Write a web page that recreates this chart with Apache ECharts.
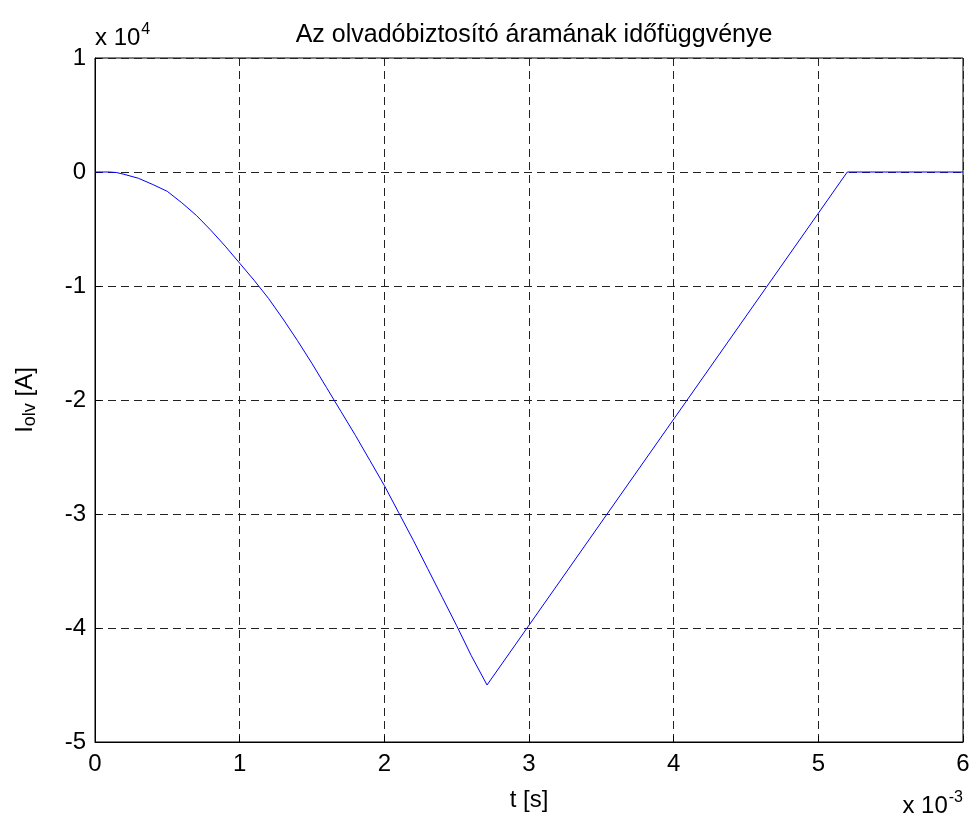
<!DOCTYPE html>
<html lang="en">
<head>
    <meta charset="UTF-8">
    <title>Az olvadóbiztosító áramának időfüggvénye</title>
    <script src="https://cdn.jsdelivr.net/npm/echarts@6/dist/echarts.min.js"></script>
    <style>
        body { margin: 0; background: #fff; }
        #chart { width: 977px; height: 826px; }
    </style>
</head>
<body>
    <div id="chart"></div>

    <script>
        // time in units of 1e-3 s
        var tData = [0, 0.1, 0.15, 0.2, 0.3, 0.4, 0.5, 0.6, 0.7, 0.8, 0.9, 1.0,
                     1.1, 1.2, 1.3, 1.4, 1.5, 1.6, 1.7, 1.8, 1.9, 2.0,
                     2.1, 2.2, 2.3, 2.4, 2.5, 2.6, 2.71, 5.2, 6.0];
        // current in units of 1e4 A
        var iData = [0, 0, -0.005, -0.02, -0.055, -0.11, -0.17, -0.27, -0.38, -0.51, -0.65, -0.80,
                     -0.95, -1.11, -1.29, -1.48, -1.68, -1.89, -2.10, -2.31, -2.53, -2.75,
                     -2.99, -3.23, -3.48, -3.73, -3.98, -4.24, -4.50, 0, 0];

        var xTicks = ['0', '1', '2', '3', '4', '5', '6'];
        var yTicks = ['-5', '-4', '-3', '-2', '-1', '0', '1'];

        var font = 'Liberation Sans, Arial, sans-serif';
        var points = tData.map(function (t, i) { return [t, iData[i]]; });

        var chart = echarts.init(document.getElementById('chart'));

        var gridLine = {
            show: true,
            lineStyle: { color: '#222', type: [8, 5], width: 1 }
        };

        var option = {
            backgroundColor: '#fff',
            animation: false,
            title: {
                text: 'Az olvadóbiztosító áramának időfüggvénye',
                left: 529,
                textAlign: 'center',
                top: 18,
                textStyle: { fontFamily: font, fontSize: 25, fontWeight: 'normal', color: '#000' }
            },
            grid: {
                left: 95, right: 14, top: 58, bottom: 84,
                show: true, borderColor: '#000', borderWidth: 1
            },
            xAxis: {
                type: 'value',
                min: 0, max: 6, interval: 1,
                name: 't [s]',
                nameLocation: 'middle',
                nameGap: 46,
                nameTextStyle: { fontFamily: font, fontSize: 24, color: '#000' },
                axisLine: { show: true, onZero: false, lineStyle: { color: '#000' } },
                axisTick: { show: true, inside: true, length: 6, lineStyle: { color: '#000' } },
                axisLabel: {
                    margin: 10,
                    fontFamily: font, fontSize: 24, color: '#000',
                    formatter: function (v) { return xTicks[Math.round(v)]; }
                },
                splitLine: gridLine
            },
            yAxis: {
                type: 'value',
                min: -5, max: 1, interval: 1,
                name: '{a|I}{b|olv}{a| [A]}',
                nameLocation: 'middle',
                nameGap: 56,
                nameRotate: 90,
                nameTextStyle: {
                    rich: {
                        a: { fontFamily: font, fontSize: 24, color: '#000' },
                        b: { fontFamily: font, fontSize: 18, color: '#000', padding: [10, 0, 0, 0] }
                    }
                },
                axisLine: { show: true, lineStyle: { color: '#000' } },
                axisTick: { show: true, inside: true, length: 6, lineStyle: { color: '#000' } },
                axisLabel: {
                    margin: 9,
                    fontFamily: font, fontSize: 24, color: '#000',
                    formatter: function (v) { return yTicks[Math.round(v) + 5]; }
                },
                splitLine: gridLine
            },
            graphic: [
                {
                    type: 'text',
                    left: 95, top: 22,
                    style: {
                        text: '{a|x 10}{b|4}',
                        rich: {
                            a: { fontFamily: font, fontSize: 24, fill: '#000' },
                            b: { fontFamily: font, fontSize: 16, fill: '#000', padding: [0, 0, 16, 1] }
                        }
                    }
                },
                {
                    type: 'text',
                    right: 14, top: 790,
                    style: {
                        text: '{a|x 10}{b|-3}',
                        rich: {
                            a: { fontFamily: font, fontSize: 24, fill: '#000' },
                            b: { fontFamily: font, fontSize: 16, fill: '#000', padding: [0, 0, 16, 1] }
                        }
                    }
                }
            ],
            series: [
                {
                    type: 'line',
                    data: points,
                    symbol: 'none',
                    smooth: false,
                    lineStyle: { color: '#0000ff', width: 1 }
                }
            ]
        };

        chart.setOption(option);
    </script>
</body>
</html>
